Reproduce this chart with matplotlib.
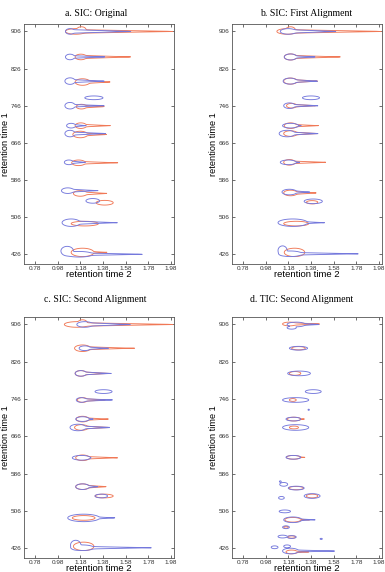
import numpy as np
import matplotlib
matplotlib.use("Agg")
import matplotlib.pyplot as plt

# ---- data ----
x_ticks = [0.78, 0.98, 1.18, 1.38, 1.58, 1.78, 1.98]
y_ticks = [426, 506, 586, 666, 746, 826, 906]
titles = ["a. SIC: Original", "b. SIC: First Alignment",
          "c. SIC: Second Alignment", "d. TIC: Second Alignment"]
xlabel = "retention time 2"
ylabel = "retention time 1"

# peak outlines: (head rt2, rt1, head half-width, head half-height, tail end rt2, tail half-height)
a_blue = [(1.09, 906, 0.04, 6, 1.665, 4), (1.09, 851, 0.04, 6, 1.43, 3),
          (1.09, 799, 0.045, 7, 1.42, 3.5), (1.30, 763, 0.08, 4, 0, 0),
          (1.09, 746, 0.045, 7, 1.42, 3), (1.10, 703, 0.04, 5, 1.24, 3),
          (1.09, 686, 0.045, 7, 1.43, 3.5), (1.08, 624, 0.04, 5, 1.24, 3),
          (1.07, 563, 0.055, 6, 1.35, 3.5), (1.29, 541, 0.06, 5, 0, 0),
          (1.10, 494, 0.08, 8, 1.52, 4), (1.065, 433, 0.055, 10, 0, 0),
          (1.17, 426, 0.12, 6, 1.78, 3)]
a_red = [(1.14, 906, 0.09, 6, 2.06, 4), (1.19, 910, 0.04, 6, 0, 0),
         (1.185, 851, 0.05, 6, 1.665, 3.5), (1.20, 797, 0.065, 7, 1.46, 3.5),
         (1.19, 744, 0.045, 5, 1.41, 3), (1.185, 703, 0.05, 6, 1.46, 3),
         (1.18, 684, 0.065, 7, 1.43, 3.5), (1.165, 623, 0.06, 6, 1.53, 3),
         (1.18, 557, 0.06, 6, 1.43, 3.5), (1.395, 537, 0.075, 5, 0, 0),
         (1.22, 492, 0.12, 5, 1.32, 3), (1.20, 430, 0.10, 9, 1.43, 3)]
b_blue = [(1.18, 906, 0.07, 6, 1.63, 4), (1.20, 851, 0.055, 6.5, 1.44, 3),
          (1.195, 799, 0.06, 6.5, 1.46, 3.5), (1.38, 763, 0.075, 4, 0, 0),
          (1.19, 746, 0.05, 6, 1.465, 3), (1.20, 703, 0.07, 5, 1.30, 3),
          (1.17, 686, 0.07, 7, 1.465, 3.5), (1.18, 624, 0.07, 5, 1.29, 3),
          (1.19, 560, 0.065, 6, 1.38, 3.5), (1.40, 540, 0.08, 5, 0, 0),
          (1.22, 494, 0.13, 8, 1.51, 3.5), (1.13, 434, 0.04, 10, 0, 0),
          (1.20, 427, 0.10, 6, 1.83, 3)]
b_red = [(1.17, 906, 0.09, 6, 2.06, 4), (1.20, 910, 0.04, 6, 0, 0),
         (1.20, 851, 0.055, 6.5, 1.68, 3.5), (1.20, 799, 0.06, 6.5, 1.46, 3.5),
         (1.21, 746, 0.045, 5, 1.44, 3), (1.20, 703, 0.055, 6, 1.46, 3),
         (1.20, 686, 0.06, 6, 1.45, 3.5), (1.19, 624, 0.05, 6, 1.54, 3),
         (1.20, 558, 0.06, 6, 1.45, 3.5), (1.39, 538, 0.05, 3.5, 0, 0),
         (1.25, 492, 0.11, 5, 0, 0), (1.235, 430, 0.09, 9, 1.31, 3)]
c_blue = [(1.22, 906, 0.07, 6, 1.65, 4), (1.22, 855, 0.05, 5, 1.43, 3),
          (1.185, 801, 0.05, 6, 1.46, 3.5), (1.385, 762, 0.075, 4, 0, 0),
          (1.19, 744, 0.045, 5, 1.49, 3), (1.20, 703, 0.06, 5, 1.30, 3),
          (1.16, 685, 0.07, 7, 1.47, 3.5), (1.19, 620, 0.08, 5, 1.28, 3),
          (1.20, 558, 0.06, 6, 1.35, 3.5), (1.365, 538, 0.055, 4, 0, 0),
          (1.21, 491, 0.14, 8, 1.51, 3.5), (1.14, 433, 0.045, 10, 0, 0),
          (1.20, 427, 0.10, 6, 1.84, 3)]
c_red = [(1.15, 906, 0.11, 6, 2.06, 4), (1.20, 910, 0.04, 6, 0, 0),
         (1.20, 855, 0.07, 7, 1.66, 3.5), (1.185, 801, 0.05, 6, 1.44, 3.5),
         (1.20, 744, 0.045, 5, 1.42, 3), (1.20, 703, 0.055, 6, 1.44, 3),
         (1.19, 685, 0.06, 6, 1.45, 3.5), (1.20, 620, 0.06, 6, 1.53, 3),
         (1.20, 558, 0.06, 6, 1.43, 3.5), (1.39, 538, 0.08, 4, 0, 0),
         (1.21, 491, 0.10, 5, 0, 0), (1.21, 430, 0.09, 9, 1.30, 3)]
d_blue = [(1.25, 906, 0.08, 5, 1.47, 3), (1.21, 899, 0.04, 3, 0, 0),
          (1.27, 855, 0.08, 4, 0, 0), (1.275, 801, 0.10, 5, 0, 0),
          (1.40, 762, 0.07, 4, 0, 0), (1.245, 744, 0.115, 5, 0, 0),
          (1.36, 723, 0.006, 1.2, 0, 0), (1.225, 703, 0.065, 4, 0, 0),
          (1.245, 685, 0.115, 6, 0, 0), (1.225, 621, 0.065, 4, 0, 0),
          (1.11, 569, 0.008, 1.5, 0, 0), (1.14, 563, 0.035, 4, 0, 0),
          (1.25, 555, 0.07, 4, 0, 0), (1.39, 538, 0.07, 5, 0, 0),
          (1.12, 534, 0.025, 3, 0, 0), (1.15, 505, 0.05, 3, 0, 0),
          (1.22, 487, 0.08, 6, 1.43, 2.5), (1.16, 471, 0.03, 3, 0, 0),
          (1.13, 451, 0.04, 3, 0, 0), (1.21, 450, 0.04, 3, 0, 0),
          (1.47, 446, 0.01, 1.2, 0, 0), (1.06, 428, 0.03, 3, 0, 0),
          (1.17, 430, 0.03, 3, 0, 0), (1.20, 420, 0.07, 6, 1.62, 2.5)]
d_red = [(1.19, 907, 0.06, 4, 1.47, 3), (1.27, 855, 0.06, 3.5, 0, 0),
         (1.24, 801, 0.05, 4, 0, 0), (1.22, 744, 0.03, 3, 0, 0),
         (1.23, 703, 0.06, 4, 1.33, 2), (1.23, 685, 0.04, 3, 0, 0),
         (1.225, 621, 0.06, 4, 1.33, 2), (1.25, 555, 0.065, 3.5, 0, 0),
         (1.39, 538, 0.05, 4, 0, 0), (1.22, 487, 0.07, 5, 1.38, 2),
         (1.16, 471, 0.02, 2, 0, 0), (1.21, 450, 0.035, 2.5, 0, 0),
         (1.21, 418, 0.05, 4, 1.39, 2)]

panels = [(a_blue, a_red), (b_blue, b_red), (c_blue, c_red), (d_blue, d_red)]

BLUE = "#7478dc"
RED = "#f07856"

W, H = 385, 572
fig = plt.figure(figsize=(W / 100, H / 100), dpi=100)
plt.rcParams["font.family"] = ["Liberation Sans", "DejaVu Sans"]

# axes boxes in pixels: (left, top, right, bottom)
boxes = [(24, 24, 174, 264), (232, 24, 382, 264),
         (24, 317, 174, 558), (232, 317, 382, 558)]
title_pos = [(96, 14), (306, 14), (95, 299), (302, 299)]

gx = np.linspace(0.6, 2.1, 700)
gy = np.linspace(395, 935, 1000)
X, Y = np.meshgrid(gx, gy)
K = 0.12  # smoothness of the union of shapes


def field(peaks):
    acc = np.zeros(X.shape)
    for (xc, yc, w, h, xt, ht) in peaks:
        gh = np.sqrt(((X - xc) / w) ** 2 + ((Y - yc) / h) ** 2)
        acc += np.exp(-np.minimum(gh, 10.0) / K)
        if xt > xc and ht > 0:
            t = (X - xc) / (xt - xc)
            prof = ht * np.clip(1 - t, 0, None) ** 1.15
            inside = (t >= 0) & (t <= 1)
            gt = np.where(inside, np.abs(Y - yc) / np.maximum(prof, 1e-9), 10.0)
            acc += np.exp(-np.minimum(gt, 10.0) / K)
    return -K * np.log(acc + 1e-300)


for i, ((blue, red), box, title, tp) in enumerate(zip(panels, boxes, titles, title_pos)):
    l, t, r, b = box
    ax = fig.add_axes([l / W, 1 - b / H, (r - l) / W, (b - t) / H])
    ax.contour(X, Y, field(red), levels=[1.0], colors=[RED], linewidths=0.65)
    ax.contour(X, Y, field(blue), levels=[1.0], colors=[BLUE], linewidths=0.65)
    ax.set_xlim(0.685, 2.005)
    ax.set_ylim(405, 922)
    ax.set_xticks(x_ticks)
    ax.set_xticklabels([f"{v:.2f}" for v in x_ticks])
    ax.set_yticks(y_ticks)
    ax.set_yticklabels([str(v) for v in y_ticks])
    ax.tick_params(direction="in", length=2, width=0.5, colors="#333333",
                   top=True, right=True, labelsize=4.6)
    ax.tick_params(axis="x", pad=1.2)
    ax.tick_params(axis="y", pad=2.0)
    for s in ax.spines.values():
        s.set_linewidth(0.6)
        s.set_color("#555555")
    ax.set_xlabel(xlabel, fontsize=6.8)
    ax.set_ylabel(ylabel, fontsize=6.6)
    ax.xaxis.set_label_coords(0.5, -0.024)
    ax.yaxis.set_label_coords(-0.093, 0.5)
    fig.text(tp[0] / W, 1 - tp[1] / H, title, ha="center", va="center",
             fontsize=7.0, family=["Liberation Serif", "DejaVu Serif"])

fig.savefig("out.png", dpi=100)
